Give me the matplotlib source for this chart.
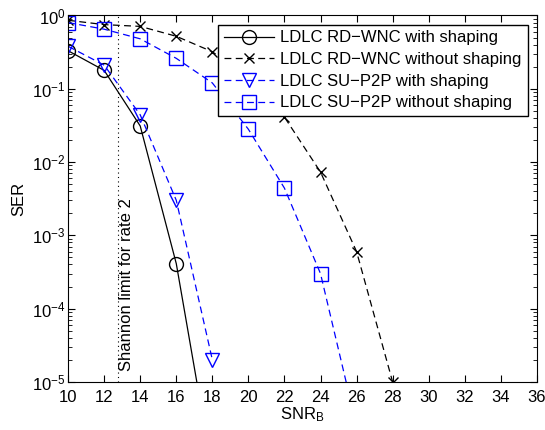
import numpy as np
import matplotlib.pyplot as plt
from matplotlib.ticker import LogLocator, NullFormatter

plt.rcParams['font.family'] = ['Liberation Sans', 'DejaVu Sans']
plt.rcParams['mathtext.fontset'] = 'custom'
plt.rcParams['mathtext.rm'] = 'Liberation Sans'
plt.rcParams['mathtext.it'] = 'Liberation Sans'

# data
snr_rd_ws = [10, 12, 14, 16, 18]
ser_rd_ws = [0.33, 0.178, 0.031, 4.1e-4, 6e-7]

snr_rd_wo = [10, 12, 14, 16, 18, 20, 22, 24, 26, 28]
ser_rd_wo = [0.86, 0.75, 0.71, 0.52, 0.32, 0.14, 0.041, 7.3e-3, 6.0e-4, 1e-5]

snr_su_ws = [10, 12, 14, 16, 18]
ser_su_ws = [0.38, 0.21, 0.044, 3.0e-3, 2.0e-5]

snr_su_wo = [10, 12, 14, 16, 18, 20, 22, 24, 26]
ser_su_wo = [0.80, 0.65, 0.48, 0.26, 0.12, 0.028, 4.4e-3, 3.0e-4, 2.5e-6]

shannon_limit = 12.77

dash = (0, (5.5, 3.5))

fig = plt.figure(figsize=(5.45, 4.3), dpi=100)
ax = fig.add_axes([0.125, 0.112, 0.86, 0.852])

ax.semilogy(snr_rd_ws, ser_rd_ws, color='k', ls='-', marker='o', mfc='none',
            ms=10, lw=0.9, label='LDLC RD\u2212WNC with shaping')
ax.semilogy(snr_rd_wo, ser_rd_wo, color='k', ls=dash, marker='x', ms=7,
            lw=0.9, label='LDLC RD\u2212WNC without shaping')
ax.semilogy(snr_su_ws, ser_su_ws, color='b', ls=dash, marker='v', mfc='none',
            ms=10.5, lw=0.9, label='LDLC SU\u2212P2P with shaping')
ax.semilogy(snr_su_wo, ser_su_wo, color='b', ls=dash, marker='s', mfc='none',
            ms=9.5, lw=0.9, label='LDLC SU\u2212P2P without shaping')

ax.axvline(shannon_limit, color='k', ls=(0, (1, 3)), lw=0.8)
ax.text(shannon_limit + 0.05, 1.4e-5, 'Shannon limit for rate 2', rotation=90,
        ha='left', va='bottom', fontsize=12)

ax.set_xlim(10, 36)
ax.set_ylim(1e-5, 1)
ax.set_xticks(np.arange(10, 37, 2))
ax.yaxis.set_major_locator(LogLocator(base=10, numticks=10))
ax.yaxis.set_minor_locator(LogLocator(base=10, subs=np.arange(2, 10), numticks=10))
ax.yaxis.set_minor_formatter(NullFormatter())
ax.tick_params(which='both', direction='in', top=True, right=True, labelsize=12)
ax.tick_params(which='major', length=5)
ax.tick_params(which='minor', length=3)
ax.tick_params(axis='x', pad=6)
ax.tick_params(axis='y', pad=2)

ax.set_xlabel('SNR$_\\mathrm{B}$', fontsize=12, labelpad=0)
ax.set_ylabel('SER', fontsize=12)

ax.legend(loc='upper right', fontsize=12, fancybox=False, framealpha=1,
          edgecolor='k', borderpad=0.35, labelspacing=0.4, handlelength=3.0,
          handletextpad=0.4, borderaxespad=0.55)

fig.savefig('out.png', dpi=100)
